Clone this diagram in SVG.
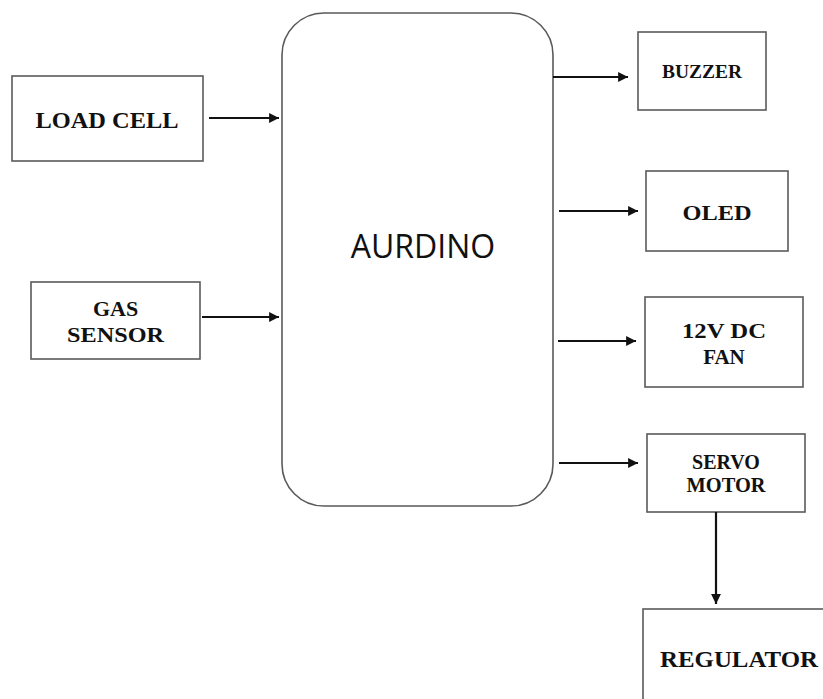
<svg xmlns="http://www.w3.org/2000/svg" width="823" height="699" viewBox="0 0 823 699">
<style>
.box{fill:#fff;stroke:#5a5a5a;stroke-width:1.6}
.lbl{font-family:"Liberation Serif","Times New Roman",serif;font-weight:bold;fill:#111;text-anchor:middle}
.main{font-family:"Open Sans","DejaVu Sans",sans-serif;fill:#111;text-anchor:middle}
.arr{stroke:#111;stroke-width:2.2;fill:none;marker-end:url(#ah)}
</style>
<defs>
<marker id="ah" viewBox="0 0 10 10" refX="10" refY="5" markerWidth="5" markerHeight="4.5" markerUnits="strokeWidth" orient="auto">
<path d="M0,0 L10,5 L0,10 z" fill="#111"/>
</marker>
</defs>
<rect width="823" height="699" fill="#fff"/>
<g id="arduino">
<rect class="box" x="282" y="13" width="271" height="493" rx="42" ry="42"/>
<text class="main" x="423" y="258" font-size="32">AURDINO</text>
</g>
<g id="load-cell">
<rect class="box" x="12" y="76" width="191" height="85"/>
<text class="lbl" x="107" y="128" font-size="24" textLength="143" lengthAdjust="spacingAndGlyphs">LOAD CELL</text>
</g>
<g id="gas-sensor">
<rect class="box" x="31" y="282" width="169" height="77"/>
<text class="lbl" x="115.5" y="316" font-size="22">GAS</text>
<text class="lbl" x="115.5" y="342" font-size="22" textLength="97" lengthAdjust="spacingAndGlyphs">SENSOR</text>
</g>
<g id="buzzer">
<rect class="box" x="638" y="32" width="128" height="78"/>
<text class="lbl" x="702" y="78" font-size="18" textLength="80" lengthAdjust="spacingAndGlyphs">BUZZER</text>
</g>
<g id="oled">
<rect class="box" x="646" y="171" width="142" height="80"/>
<text class="lbl" x="717" y="220" font-size="22" textLength="69" lengthAdjust="spacingAndGlyphs">OLED</text>
</g>
<g id="fan">
<rect class="box" x="645" y="297" width="158" height="90"/>
<text class="lbl" x="724" y="338" font-size="21" textLength="84" lengthAdjust="spacingAndGlyphs">12V DC</text>
<text class="lbl" x="724" y="364" font-size="21">FAN</text>
</g>
<g id="servo">
<rect class="box" x="647" y="434" width="158" height="78"/>
<text class="lbl" x="726" y="469" font-size="20">SERVO</text>
<text class="lbl" x="726" y="492" font-size="20" textLength="79" lengthAdjust="spacingAndGlyphs">MOTOR</text>
</g>
<g id="regulator">
<rect class="box" x="643" y="609" width="200" height="120"/>
<text class="lbl" x="739" y="667" font-size="23" textLength="158" lengthAdjust="spacingAndGlyphs">REGULATOR</text>
</g>
<g id="connectors">
<line class="arr" x1="209" y1="118" x2="279" y2="118"/>
<line class="arr" x1="202" y1="317" x2="279" y2="317"/>
<line class="arr" x1="553" y1="77" x2="628" y2="77"/>
<line class="arr" x1="559" y1="211" x2="638" y2="211"/>
<line class="arr" x1="558" y1="341" x2="636" y2="341"/>
<line class="arr" x1="559" y1="463" x2="638" y2="463"/>
<line class="arr" x1="716" y1="512" x2="716" y2="604"/>
</g>
</svg>
